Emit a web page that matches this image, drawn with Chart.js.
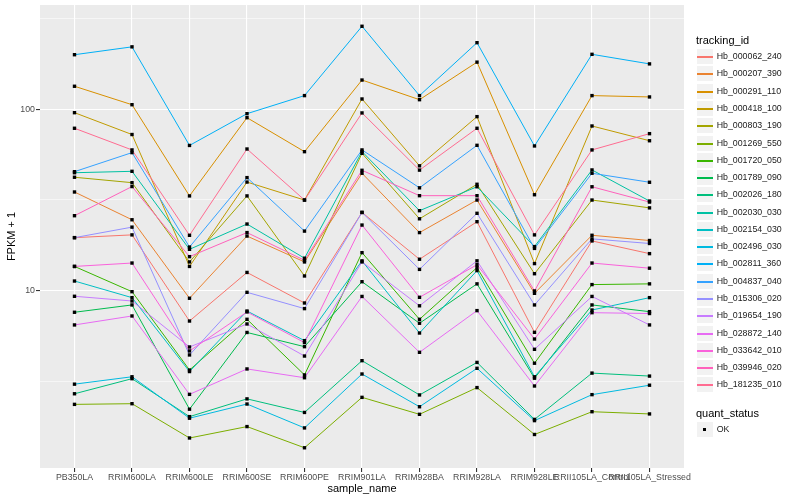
<!DOCTYPE html>
<html>
<head>
<meta charset="utf-8">
<script src="https://cdn.jsdelivr.net/npm/chart.js@4.4.1/dist/chart.umd.min.js"></script>
<style>
  body { margin: 0; background: #fff; font-family: "Liberation Sans", Arial, sans-serif; }
  #wrap { position: relative; width: 800px; height: 500px; }
  #legend { position: absolute; left: 696px; top: 0; width: 104px; height: 500px; }
  .ltitle { position: absolute; left: 0; font-size: 11px; line-height: 14px; color: #000; white-space: nowrap; }
  .key { position: absolute; left: 1px; width: 16px; height: 15px; margin-top: 1px; background: #F2F2F2; }
  .kline { position: absolute; left: 0; right: 0; top: 7px; height: 1.5px; }
  .kpoint { position: absolute; left: 6px; top: 6px; width: 3px; height: 3px; background: #000; }
  .klabel { position: absolute; left: 20.7px; height: 17px; line-height: 17px; font-size: 8.8px; color: #1A1A1A; white-space: nowrap; }
</style>
</head>
<body>
<div id="wrap">
  <canvas id="chart" width="800" height="500"></canvas>
  <div id="legend"></div>
</div>
<script>
// samples on the x axis
const sampleNames = ['PB350LA', 'RRIM600LA', 'RRIM600LE', 'RRIM600SE', 'RRIM600PE', 'RRIM901LA',
  'RRIM928BA', 'RRIM928LA', 'RRIM928LE', 'RRII105LA_Control', 'RRII105LA_Stressed']

const trackingIds = ['Hb_000062_240', 'Hb_000207_390', 'Hb_000291_110', 'Hb_000418_100', 'Hb_000803_190',
  'Hb_001269_550', 'Hb_001720_050', 'Hb_001789_090', 'Hb_002026_180', 'Hb_002030_030',
  'Hb_002154_030', 'Hb_002496_030', 'Hb_002811_360', 'Hb_004837_040', 'Hb_015306_020',
  'Hb_019654_190', 'Hb_028872_140', 'Hb_033642_010', 'Hb_039946_020', 'Hb_181235_010']

// FPKM + 1 per gene, one value per sample
const hb000062_240 = [19.6, 20.3, 6.8, 12.6, 8.55, 27.0, 14.9, 24.0, 5.89, 18.8, 16.0]
const hb000207_390 = [35.0, 24.6, 9.08, 20.0, 14.4, 44.4, 20.9, 31.6, 9.67, 20.2, 18.9]
const hb000291_110 = [134, 106, 33.3, 89.9, 58.4, 145, 113, 182, 33.8, 119, 117]
const hb000418_100 = [95.8, 72.6, 13.6, 39.7, 31.6, 114, 48.8, 91.1, 14.1, 80.9, 67.1]
const hb000803_190 = [42.2, 39.4, 14.4, 33.3, 12.05, 57.2, 24.9, 38.6, 12.4, 31.6, 28.6]
const hb001269_550 = [2.36, 2.38, 1.54, 1.78, 1.36, 2.58, 2.08, 2.92, 1.61, 2.15, 2.09]
const hb001720_050 = [13.6, 9.87, 3.65, 6.95, 3.43, 16.2, 6.95, 13.4, 3.98, 10.8, 10.9]
const hb001789_090 = [7.6, 8.34, 2.22, 5.88, 4.91, 11.2, 6.61, 10.9, 3.29, 8.34, 7.66]
const hb002026_180 = [2.70, 3.27, 2.02, 2.53, 2.13, 4.11, 2.66, 4.02, 1.95, 3.51, 3.38]
const hb002030_030 = [44.7, 45.5, 16.9, 23.3, 15.1, 58.5, 27.6, 37.4, 17.5, 46.3, 31.2]
const hb002154_030 = [11.3, 9.15, 3.58, 7.72, 5.30, 14.6, 5.84, 12.9, 3.35, 7.82, 9.15]
const hb002496_030 = [3.05, 3.35, 1.98, 2.37, 1.75, 3.47, 2.29, 3.73, 1.92, 2.67, 3.01]
const hb002811_360 = [200, 221, 63.2, 94.6, 119, 287, 119, 233, 62.8, 201, 178]
const hb004837_040 = [45.3, 57.7, 17.4, 42.0, 21.3, 59.7, 36.9, 63.3, 17.1, 44.4, 39.6]
const hb015306_020 = [19.6, 22.4, 4.42, 9.79, 7.96, 27.0, 13.1, 26.7, 8.34, 19.3, 18.2]
const hb019654_190 = [9.31, 8.77, 4.89, 6.55, 4.36, 14.4, 8.25, 14.6, 4.75, 9.29, 6.47]
const hb028872_140 = [6.47, 7.25, 2.68, 3.70, 3.31, 9.29, 4.57, 7.76, 2.98, 7.56, 7.48]
const hb033642_010 = [13.6, 14.2, 4.65, 7.63, 5.17, 23.0, 9.19, 13.9, 5.41, 14.2, 13.3]
const hb039946_020 = [25.9, 37.5, 15.4, 20.9, 14.7, 46.1, 33.4, 33.4, 9.96, 37.4, 30.8]
const hb181235_010 = [78.6, 59.7, 20.2, 60.4, 31.6, 95.5, 46.2, 78.6, 20.3, 59.7, 73.4]

const seriesValues = [hb000062_240, hb000207_390, hb000291_110, hb000418_100, hb000803_190,
  hb001269_550, hb001720_050, hb001789_090, hb002026_180, hb002030_030,
  hb002154_030, hb002496_030, hb002811_360, hb004837_040, hb015306_020,
  hb019654_190, hb028872_140, hb033642_010, hb039946_020, hb181235_010]

const quantStatus = ['OK']

// y axis breaks
const yMajorTicks = [10, 100]
const yMinorTicks = [3.1623, 31.623, 316.23]

// ggplot hue palette, 20 levels
const palette = ['#F8766D', '#EA8331', '#D89000', '#C09B00', '#A3A500', '#7CAE00', '#39B600', '#00BB4E',
  '#00BF7D', '#00C1A3', '#00BFC4', '#00BAE0', '#00B0F6', '#35A2FF', '#9590FF', '#C77CFF',
  '#E76BF3', '#FA62DB', '#FF62BC', '#FF6C91']

const family = '"Liberation Sans", Arial, sans-serif'
Chart.defaults.font.family = family

const panelBg = {
  id: 'panelBg',
  beforeDraw(chart) {
    const { ctx, chartArea: a } = chart
    ctx.save()
    ctx.fillStyle = '#EBEBEB'
    ctx.fillRect(a.left, a.top, a.right - a.left, a.bottom - a.top)
    ctx.restore()
  }
}

const toPoints = vals => vals.map((v, j) => ({ x: j, y: v }))

const lineSets = seriesValues.map((vals, i) => ({
  label: trackingIds[i],
  data: toPoints(vals),
  borderColor: palette[i],
  borderWidth: 1,
  pointRadius: 0,
  tension: 0,
  order: 100 - i
}))

// points go on top of every line, like geom_point after geom_line
const pointSets = seriesValues.map((vals, i) => ({
  label: trackingIds[i] + ' ' + quantStatus[0],
  data: toPoints(vals),
  showLine: false,
  pointStyle: 'rect',
  pointRadius: 2.4,
  pointBackgroundColor: '#000',
  pointBorderWidth: 0,
  order: 0
}))

const isMajor = v => yMajorTicks.includes(v)

new Chart(document.getElementById('chart'), {
  type: 'line',
  data: { datasets: lineSets.concat(pointSets) },
  plugins: [panelBg],
  options: {
    responsive: false,
    animation: false,
    layout: { padding: { left: 0, right: 116, top: 5, bottom: 0 } },
    plugins: { legend: { display: false }, tooltip: { enabled: false } },
    scales: {
      x: {
        type: 'linear',
        min: -0.6,
        max: sampleNames.length - 0.4,
        afterBuildTicks: s => { s.ticks = sampleNames.map((n, i) => ({ value: i })) },
        afterFit: s => { s.height = 32; s.paddingLeft = 0; s.paddingRight = 0 },
        border: { display: false },
        grid: { color: '#FFFFFF', lineWidth: 1.1, tickLength: 4, tickColor: '#333333' },
        ticks: {
          autoSkip: false, maxRotation: 0, padding: 0, color: '#4D4D4D',
          font: { size: 8.8 },
          callback: v => sampleNames[v]
        },
        title: { display: true, text: 'sample_name', color: '#000', font: { size: 11 }, padding: { top: 0, bottom: 4 } }
      },
      y: {
        type: 'logarithmic',
        min: 1.052,
        max: 376,
        afterBuildTicks: s => { s.ticks = yMinorTicks.concat(yMajorTicks).sort((a, b) => a - b).map(v => ({ value: v })) },
        afterFit: s => { s.width = 40; s.paddingTop = 0; s.paddingBottom = 0 },
        border: { display: false },
        grid: {
          color: '#FFFFFF',
          lineWidth: c => (c.tick && isMajor(c.tick.value) ? 1.1 : 0.55),
          tickLength: 4,
          tickColor: c => (c.tick && isMajor(c.tick.value) ? '#333333' : 'rgba(0,0,0,0)')
        },
        ticks: {
          padding: 1, color: '#4D4D4D', font: { size: 8.8 },
          callback: v => (isMajor(v) ? String(v) : '')
        },
        title: { display: true, text: 'FPKM + 1', color: '#000', font: { size: 11 }, padding: { top: 5, bottom: 0 } }
      }
    }
  }
})

// legend, drawn as html text next to the panel
let html = '<div class="ltitle" style="top:33px">tracking_id</div>'
trackingIds.forEach((id, i) => {
  const top = Math.round(48.1 + i * 17.28)
  html += '<div class="key" style="top:' + top + 'px"><div class="kline" style="background:' + palette[i] + '"></div></div>'
  html += '<div class="klabel" style="top:' + top + 'px">' + id + '</div>'
})
html += '<div class="ltitle" style="top:406px">quant_status</div>'
quantStatus.forEach((q, i) => {
  const top = Math.round(420.7 + i * 17.28)
  html += '<div class="key" style="top:' + top + 'px"><div class="kpoint"></div></div>'
  html += '<div class="klabel" style="top:' + top + 'px">' + q + '</div>'
})
document.getElementById('legend').innerHTML = html
</script>
</body>
</html>
